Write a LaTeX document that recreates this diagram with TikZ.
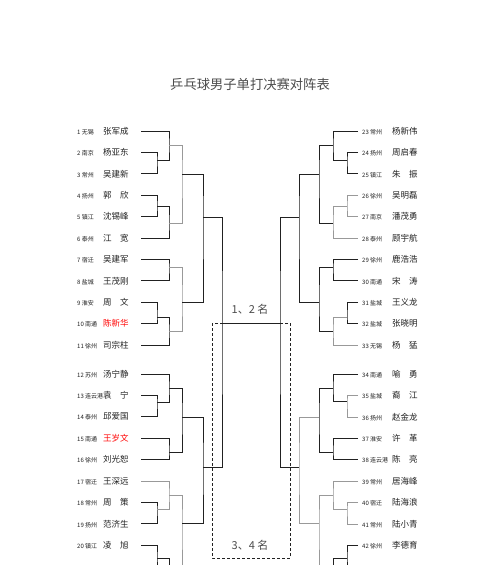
\documentclass[tikz,border=0pt]{standalone}
\usepackage{fontspec}
\setmainfont{Noto Sans CJK SC}
\definecolor{LineClr}{rgb}{0.13,0.13,0.13}
\definecolor{LightClr}{rgb}{0.6,0.6,0.6}
\newcommand\NameGap{\hspace{1em}}
\newcommand\CityFont{\fontsize{6}{7}\selectfont}
\newcommand\NameFont{\fontsize{8.5}{10}\selectfont}
% one bracket: two entries, bar at x, out point at (x,y)
\newcommand\Tie[6][]{\draw[tie,#1] (#2) -| (#4,#5) |- (#3); \coordinate (#6) at (#4,#5);}

\begin{document}
\begin{tikzpicture}[x=1pt,y=-1pt,
  tie/.style={line width=1pt,color=LineClr},
  gy/.style={line width=0.6pt,color=LightClr},
  player/.style={anchor=west,inner sep=0pt,text=LineClr},
  rank/.style={inner sep=0pt,text=black!70,font=\fontsize{11}{12}\selectfont},
  dashbox/.style={line width=0.7pt,color=LineClr,dash pattern=on 3pt off 2pt}]
\fill[white] (0,0) rectangle (500,565);
\useasboundingbox (0,0) rectangle (500,565);

\node[inner sep=0pt,text=black!70,font=\fontsize{13.3}{15}\selectfont] (head) at (250,84) {乒乓球男子单打决赛对阵表};

% entry points of the lines
\foreach \n in {1,...,22}{
  \pgfmathsetmacro\y{131+21.4*(\n-1)+7.6*(\n>11)}
  \coordinate (a\n) at (141,\y);
}
\foreach \n in {23,...,44}{
  \pgfmathsetmacro\y{131+21.4*(\n-23)+7.6*(\n>33)}
  \coordinate (b\n) at (358,\y);
}

% left half
\foreach \n/\c/\nm/\cl in {1/无锡/张军成/LineClr, 2/南京/杨亚东/LineClr, 3/常州/吴建新/LineClr,
  4/扬州/郭\NameGap 欣/LineClr, 5/镇江/沈锡峰/LineClr, 6/泰州/江\NameGap 宽/LineClr,
  7/宿迁/吴建军/LineClr, 8/盐城/王茂刚/LineClr, 9/淮安/周\NameGap 文/LineClr,
  10/南通/陈新华/red, 11/徐州/司宗柱/LineClr, 12/苏州/汤宁静/LineClr,
  13/连云港/袁\NameGap 宁/LineClr, 14/泰州/邱爱国/LineClr, 15/南通/王岁文/red,
  16/徐州/刘光恕/LineClr, 17/宿迁/王深远/LineClr, 18/常州/周\NameGap 策/LineClr,
  19/扬州/范济生/LineClr, 20/镇江/凌\NameGap 旭/LineClr}{
  \pgfmathsetmacro\y{131+21.4*(\n-1)+7.6*(\n>11)}
  \node[player] (L\n) at (77,\y) {\makebox[26pt][l]{\CityFont\n\ \c}{\NameFont\color{\cl}\nm}};
}

% right half
\foreach \n/\c/\nm in {23/常州/杨新伟, 24/扬州/周启春, 25/镇江/朱\NameGap 振,
  26/徐州/吴明磊, 27/南京/潘茂勇, 28/泰州/顾宇航, 29/徐州/鹿浩浩,
  30/南通/宋\NameGap 涛, 31/盐城/王义龙, 32/盐城/张晓明, 33/无锡/杨\NameGap 猛,
  34/南通/喻\NameGap 勇, 35/盐城/裔\NameGap 江, 36/扬州/赵金龙, 37/淮安/许\NameGap 革,
  38/连云港/陈\NameGap 亮, 39/常州/居海峰, 40/宿迁/陆海浪, 41/常州/陆小青, 42/徐州/李德育}{
  \pgfmathsetmacro\y{131+21.4*(\n-23)+7.6*(\n>33)}
  \node[player] (R\n) at (362,\y) {\makebox[30pt][l]{\CityFont\n\ \c}{\NameFont\nm}};
}

% left brackets
\Tie{a2}{a3}{157}{160}{s1}
\Tie{a1}{s1}{169}{145}{s2}
\Tie{a4}{a5}{157}{206}{s3}
\Tie{s3}{a6}{169}{223}{s4}
\Tie[gy]{s2}{s4}{182}{174}{s5}
\Tie{a7}{a8}{169}{267}{s6}
\Tie{a9}{a10}{157}{317}{s7}
\Tie{s7}{a11}{169}{331}{s8}
\Tie[gy]{s6}{s8}{182}{302}{s9}
\Tie{s5}{s9}{203}{217}{s10}
\Tie{a13}{a14}{157}{402}{t1}
\Tie{a12}{t1}{169}{388}{t2}
\Tie{a15}{a16}{169}{452}{t3}
\Tie{t2}{t3}{182}{417}{t4}
\Tie{a18}{a19}{157}{509}{t5}
\Tie[gy]{a17}{t5}{169}{495}{t6}
\Tie{a20}{a21}{157}{558}{t7}
\Tie{t7}{a22}{169}{577}{t8}
\Tie[gy]{t6}{t8}{182}{523}{t9}
\Tie{t4}{t9}{203}{467}{t10}
\Tie{s10}{t10}{222}{323}{fl}

% right brackets
\Tie{b24}{b25}{347}{160}{u1}
\Tie{b23}{u1}{333}{145}{u2}
\Tie[gy]{b26}{b27}{347}{206}{u3}
\Tie[gy]{u3}{b28}{333}{223}{u4}
\Tie{u2}{u4}{319}{174}{u5}
\Tie{b29}{b30}{333}{267}{u6}
\Tie{b31}{b32}{347}{317}{u7}
\Tie[gy]{u7}{b33}{333}{331}{u8}
\Tie{u6}{u8}{319}{302}{u9}
\Tie{u5}{u9}{299}{217}{u10}
\Tie[gy]{b35}{b36}{347}{401}{v1}
\Tie{b34}{v1}{333}{388}{v2}
\Tie{b37}{b38}{333}{452}{v3}
\Tie{v2}{v3}{319}{417}{v4}
\Tie[gy]{b40}{b41}{347}{509}{v5}
\Tie[gy]{b39}{v5}{333}{495}{v6}
\Tie{b42}{b43}{347}{558}{v7}
\Tie{v7}{b44}{333}{577}{v8}
\Tie[gy]{v6}{v8}{319}{523}{v9}
\Tie[gy]{v4}{v9}{299}{467}{v10}
\Tie{u10}{v10}{280}{323}{fr}

\draw[tie] (fl) -- (fr);

% places
\coordinate (bx1) at (212,323);
\coordinate (bx2) at (290,558);
\draw[dashbox] (bx1) rectangle (bx2);
\node[rank] (first) at (250,309) {1、2 名};
\node[rank] (third) at (250,545) {3、4 名};
\end{tikzpicture}
\end{document}
